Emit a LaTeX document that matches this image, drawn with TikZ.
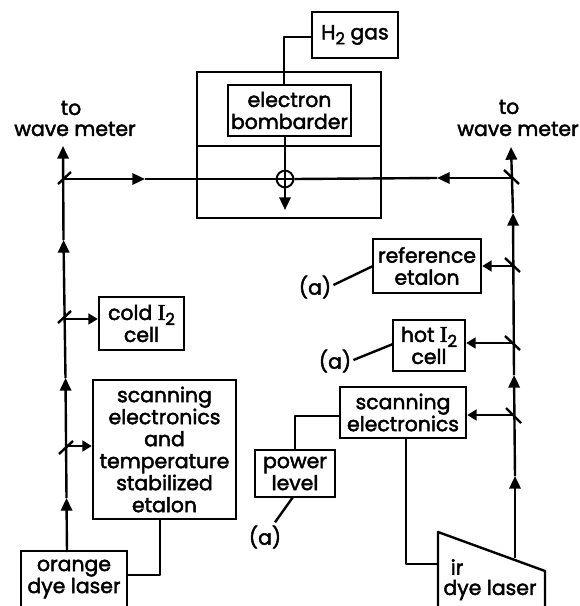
\documentclass[tikz,border=0pt]{standalone}
\usepackage{fontspec}
\setmainfont{Poppins}[FakeBold=2.2]
\newfontfamily\serifI{Liberation Serif}[FakeBold=2.5]
\usetikzlibrary{arrows.meta}
\newcommand{\lowtwo}{\raisebox{-0.45ex}{\fontsize{12.5}{12.5}\selectfont 2}}
\newcommand{\iodine}{{\serifI\fontsize{17}{17}\selectfont I}\lowtwo}
\tikzstyle{label}=[inner sep=0pt,align=center,font=\fontsize{15.3}{16.5}\selectfont]
\tikzstyle{unit}=[label,draw,rectangle,line width=1.8pt]
\tikzstyle{wire}=[line width=1.8pt,line join=round]
\tikzstyle{beam}=[wire,-{Triangle[length=9.5pt,width=8.5pt]}]
\tikzstyle{stub}=[wire,-{Triangle[length=7pt,width=8pt]}]
\begin{document}
\begin{tikzpicture}[x=0.75pt,y=-0.75pt]
\useasboundingbox (0,0) rectangle (579,606);
% chamber
\node [unit,minimum width=138pt,minimum height=109.5pt] (chamber) at (289,145) {};
\node [unit,minimum width=64.5pt,minimum height=34.5pt] (gas) at (355,35) {H\lowtwo\ gas};
\node [unit,minimum width=92.25pt,minimum height=38.25pt] (bomb) at (289.5,110.5) {electron\\bombarder};
\coordinate (divl) at (197,146);
\coordinate (divr) at (381,146);
\draw [wire] (divl) -- (divr);
\node [draw,circle,line width=1.5pt,minimum size=12.5pt,inner sep=0pt] (cross) at (285,179) {};
\draw [wire,line width=1.3pt] (cross.north) -- (cross.south);
\draw [wire,line width=1.3pt] (cross.west) -- (cross.east);
\coordinate (gasbend) at (284,37);
\coordinate (bombtop) at (284,85);
\coordinate (bombout) at (285,136);
\coordinate (stop) at (285,210);
\draw [wire] (gas.west |- gasbend) -- (gasbend) -- (bombtop);
\draw [wire] (bombout) -- (cross.north);
\draw [beam] (cross.south) -- (stop);
% orange side
\node [unit,minimum width=79.5pt,minimum height=42pt] (orange) at (74,579) {orange\\dye laser};
\node [unit,minimum width=63.75pt,minimum height=39.75pt] (cold) at (141.5,323.5) {cold \iodine\\cell};
\node [unit,minimum width=107.25pt,minimum height=104.25pt] (stab) at (164.5,449.5) {scanning\\electronics\\and\\temperature\\stabilized\\etalon};
\coordinate (lbase) at (67,552);
\coordinate (ltip1) at (66.5,498);
\coordinate (lm1) at (66,450);
\coordinate (ltip2) at (65.5,378);
\coordinate (lm2) at (64,319);
\coordinate (ltip3) at (63.5,240);
\coordinate (lm3) at (63,179);
\coordinate (ltop) at (63,146);
\coordinate (beamr) at (145,179);
\draw [beam] (lbase) -- (ltip1);
\draw [beam] (ltip1) -- (ltip2);
\draw [beam] (ltip2) -- (ltip3);
\draw [beam] (ltip3) -- (ltop);
\draw [beam] (lm3) -- (beamr);
\draw [wire] (beamr) -- (cross.west);
\draw [stub] (lm2) -- (lm2 -| cold.west);
\draw [stub] (lm1) ++(0,-4) coordinate (lm1a) -- (lm1a -| stab.west);
\draw [wire] (lm1) ++(-7,4) -- ++(14,-13);
\draw [wire] (lm2) ++(-6,4) -- ++(13,-12);
\draw [wire] (lm3) ++(-5,5) -- ++(13,-12);
\coordinate (stabout) at (160,519);
\coordinate (stabbend) at (160,575);
\draw [wire] (stabout) -- (stabbend) -- (stabbend -| orange.east);
\node [label] (tol) at (71,108) {to};
\node [label] (wavel) at (75,129) {wave meter};
% ir side
\coordinate (ir1) at (438,532);
\coordinate (ir2) at (545,571);
\coordinate (ir3) at (545,612);
\coordinate (ir4) at (438,612);
\draw [wire] (ir1) -- (ir2) -- (ir3) -- (ir4) -- cycle;
\node [label] (irtext) at (457,567) {ir};
\node [label] (irname) at (490,590) {dye laser};
\node [unit,minimum width=81pt,minimum height=40.5pt] (refer) at (427,266) {reference\\etalon};
\node [unit,minimum width=54pt,minimum height=38.25pt] (hot) at (429,345.5) {hot \iodine\\cell};
\node [unit,minimum width=94.5pt,minimum height=38.25pt] (scan) at (403,412.5) {scanning\\electronics};
\node [unit,minimum width=60pt,minimum height=35.25pt] (power) at (295,473.5) {power\\level};
\coordinate (rbase) at (515,558);
\coordinate (rtip1) at (515,476);
\coordinate (rm1) at (514,415);
\coordinate (rtip2) at (514,375);
\coordinate (rm2) at (513,343);
\coordinate (rm3) at (513,266);
\coordinate (rtip3) at (513,213);
\coordinate (rm4) at (512,178);
\coordinate (rtop) at (511,147);
\coordinate (beaml) at (437,178);
\draw [beam] (rbase) -- (rtip1);
\draw [beam] (rtip1) -- (rtip2);
\draw [beam] (rtip2) -- (rtip3);
\draw [beam] (rtip3) -- (rtop);
\draw [beam] (rm4) -- (beaml);
\draw [wire] (beaml) -- (cross.east);
\draw [stub] (rm3) -- (rm3 -| refer.east);
\draw [stub] (rm2) -- (rm2 -| hot.east);
\draw [stub] (rm1) -- (rm1 -| scan.east);
\draw [wire] (rm1) ++(-8,-7) -- ++(15,15);
\draw [wire] (rm2) ++(-8,-7) -- ++(15,14);
\draw [wire] (rm3) ++(-8,-8) -- ++(15,14);
\draw [wire] (rm4) ++(-8,-8) -- ++(15,14);
\coordinate (scanout) at (406,438);
\coordinate (scanbend) at (406,564);
\draw [wire] (scanout) -- (scanbend) -- (438,564);
\coordinate (powbend) at (295,416);
\draw [wire] (scan.west |- powbend) -- (powbend) -- (power.north -| powbend);
\node [label] (ar) at (315,287) {(a)};
\node [label] (ah) at (335,361) {(a)};
\node [label] (ap) at (265,537) {(a)};
\coordinate (arin) at (373,266);
\coordinate (ahin) at (393,344);
\coordinate (apin) at (293,497);
\draw [wire] (ar.east) ++(2,-2) -- (arin);
\draw [wire] (ah.east) ++(2,-1) -- (ahin);
\draw [wire] (ap.north) ++(10,-3) -- (apin);
\node [label] (tor) at (509,107) {to};
\node [label] (waver) at (518,129) {wave meter};
\end{tikzpicture}
\end{document}
